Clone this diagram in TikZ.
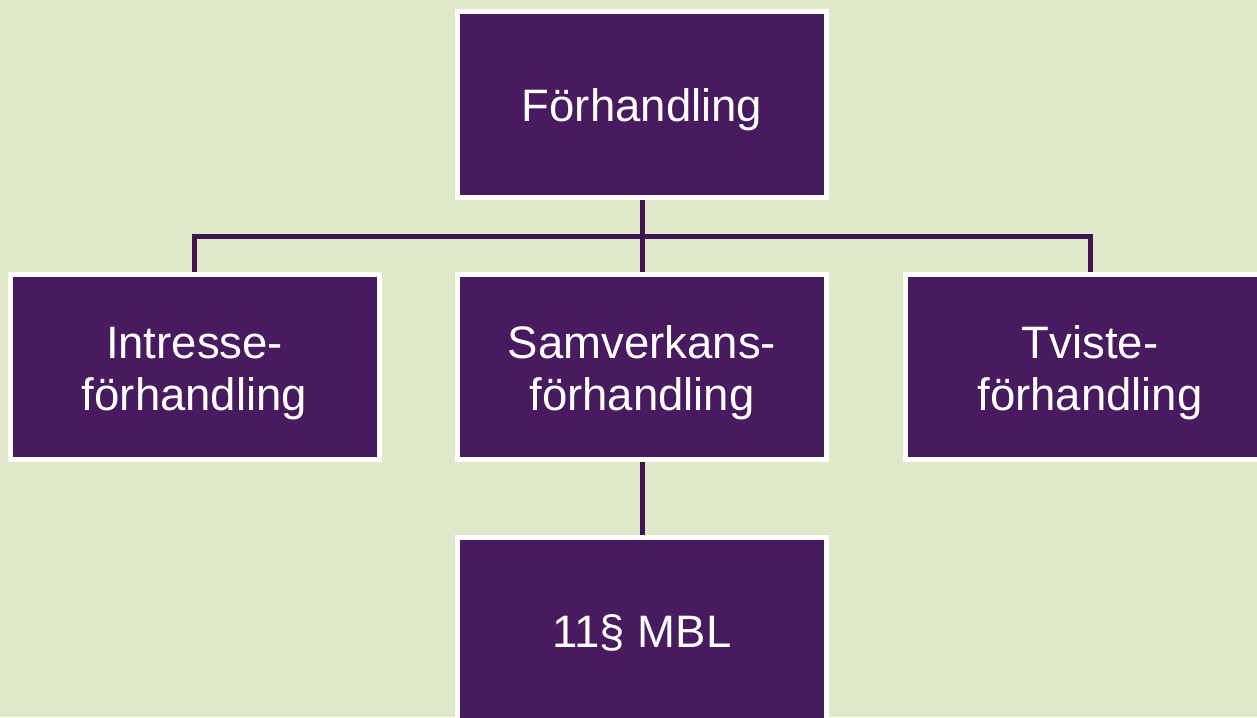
\documentclass[tikz,border=0pt]{standalone}
\usepackage{fontspec}
\setmainfont{Liberation Sans}
\usetikzlibrary{backgrounds}
\definecolor{bgcol}{HTML}{DFE8C8}
\definecolor{boxcol}{HTML}{481A60}
\definecolor{linkcol}{HTML}{3E1450}
\tikzset{
  orgbox/.style={rectangle, draw=white, line width=5pt, fill=boxcol,
    minimum width=369pt, minimum height=185pt, inner sep=0pt},
  link/.style={draw=linkcol, line width=5pt},
  lbl/.style={text=white, align=center, anchor=base, inner sep=0pt,
    font=\fontsize{45.5}{52}\selectfont}
}
\begin{document}
\begin{tikzpicture}[x=1pt, y=-1pt]
  \useasboundingbox (0,0) rectangle (1257,717);
  \clip (0,0) rectangle (1257,717);

  % boxes
  \node[orgbox] (top)   at (642,104.5) {};
  \node[orgbox] (left)  at (194.5,367) {};
  \node[orgbox] (mid)   at (642,367)   {};
  \node[orgbox] (right) at (1090,367)  {};
  \node[orgbox] (bot)   at (642,630)   {};

  % labels, placed by the baseline of their last line
  \node[lbl] (topt)   at (642,121)    {Förhandling};
  \node[lbl] (leftt)  at (194.5,410)  {Intresse-\\förhandling};
  \node[lbl] (midt)   at (642,410)    {Samverkans-\\förhandling};
  \node[lbl] (rightt) at (1090,410)   {Tviste-\\förhandling};
  \node[lbl] (bott)   at (642,647)    {11§ MBL};

  \coordinate (bus) at (642,236.5);

  \begin{pgfonlayer}{background}
    \fill[bgcol] (0,0) rectangle (1257,717);
    \draw[link] (top.south) -- (mid.north);
    \draw[link] (left.north) |- (bus) -| (right.north);
    \draw[link] (mid.south) -- (bot.north);
  \end{pgfonlayer}
\end{tikzpicture}
\end{document}
